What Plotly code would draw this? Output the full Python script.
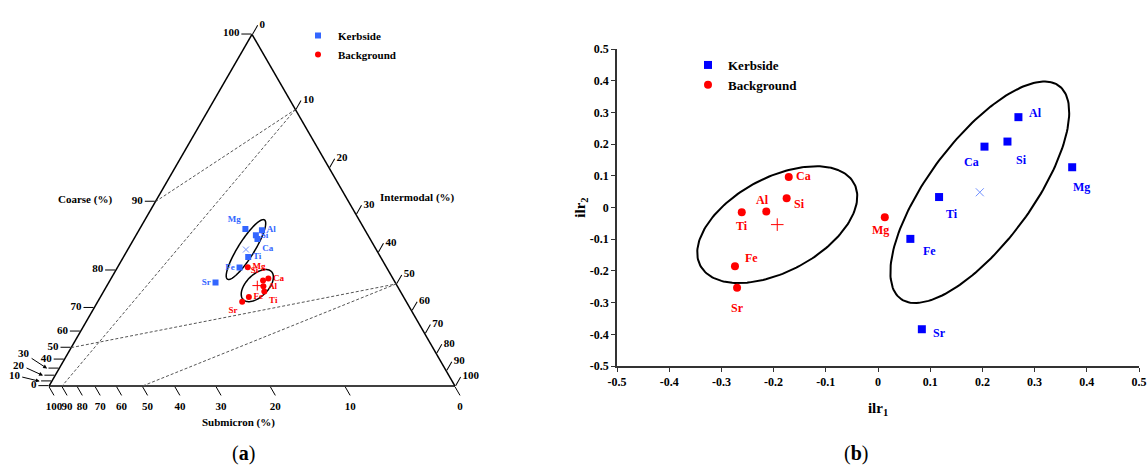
import numpy as np
import plotly.graph_objects as go

W, H = 1148, 466
SERIF = "Liberation Serif"
BLUE_A = "#3366FF"
BLUE_B = "#0000FF"
BLUE_X = "#7090FF"
RED = "#FF0000"

# ---------------- (a) ternary data, percent ----------------
k_elem = ["Mg", "Al", "Si", "Ca", "Ti", "Fe", "Sr"]
k_coarse = [75.8, 74.1, 73.5, 72.5, 68.9, 66.8, 64.5]
k_inter = [18.1, 20.7, 20.7, 21.6, 23.6, 24.4, 23.6]
k_submicron = [6.1, 5.2, 5.8, 5.9, 7.5, 8.8, 11.9]

b_elem = ["Mg", "Ca", "Si", "Al", "Ti", "Fe", "Sr"]
b_coarse = [66.2, 60.9, 60.8, 58.9, 57.0, 56.3, 55.1]
b_inter = [25.7, 31.6, 31.2, 32.8, 34.3, 33.3, 33.5]
b_submicron = [8.2, 7.5, 8.0, 8.4, 8.7, 10.4, 11.4]

k_centre = [71.1, 21.8, 7.2]   # coarse, intermodal, submicron
b_centre = [59.6, 31.6, 8.8]
plot_centre = [65.3, 26.7, 8.0]  # centring composition of the diagram

tern_ticks = [0, 10, 20, 30, 40, 50, 60, 70, 80, 90, 100]
crowded_coarse = [30, 20, 10]
crowded_offsets = [(-23, -15), (-24, -11), (-25, -6)]
grid_coarse = [50, 90]
grid_inter = [10, 50]

# ellipse (semi-major, semi-minor in triangle-side units, angle deg)
k_ell_a = [0.086, 0.020, 58.0]
b_ell_a = [0.049, 0.027, 45.0]

k_pos_a = ["top left", "middle right", "middle right", "bottom right",
           "middle right", "middle left", "middle left"]
b_pos_a = ["middle right", "middle right", "top left", "middle right",
           "bottom right", "middle right", "bottom left"]

# ---------------- (b) ilr data ----------------
k_ilr1 = [0.372, 0.269, 0.248, 0.204, 0.117, 0.062, 0.084]
k_ilr2 = [0.127, 0.285, 0.208, 0.192, 0.033, -0.099, -0.384]
b_ilr1 = [0.013, -0.171, -0.175, -0.214, -0.261, -0.274, -0.270]
b_ilr2 = [-0.031, 0.096, 0.029, -0.013, -0.015, -0.185, -0.253]
k_ilr_centre = [0.195, 0.048]
b_ilr_centre = [-0.193, -0.054]
# ellipse in data units: semi-major, semi-minor, angle deg
k_ell_b = [0.373, 0.111, 68.5]
b_ell_b = [0.208, 0.119, 55.5]
# label offsets in px (dx, dy up)
k_off_b = [(9, -20), (17, 4), (14, -18), (-13, -15), (13, -17), (19, -12), (18, -4)]
b_off_b = [(-4, -13), (15, 1), (13, -6), (-4, 12), (0, -14), (17, 8), (0, -20)]
ilr_ticks = [-0.5, -0.4, -0.3, -0.2, -0.1, 0, 0.1, 0.2, 0.3, 0.4, 0.5]
ilr_ticktext = ["-0.5", "-0.4", "-0.3", "-0.2", "-0.1", "0", "0.1", "0.2", "0.3", "0.4", "0.5"]


def centred(coarse, inter, sub):
    a = np.asarray(coarse, float) / plot_centre[0]
    c = np.asarray(inter, float) / plot_centre[1]
    b = np.asarray(sub, float) / plot_centre[2]
    s = a + b + c
    return a / s, b / s, c / s


def to_xy(a, b, c):
    return c + a / 2.0, a * np.sqrt(3) / 2.0


def from_xy(X, Y):
    a = 2.0 * Y / np.sqrt(3)
    c = X - a / 2.0
    return a, 1 - a - c, c


def ellipse_tern(centre, semi_a, semi_b, ang):
    a0, b0, c0 = centred(*centre)
    X0, Y0 = to_xy(a0, b0, c0)
    t = np.linspace(0, 2 * np.pi, 181)
    th = np.radians(ang)
    X = X0 + semi_a * np.cos(t) * np.cos(th) - semi_b * np.sin(t) * np.sin(th)
    Y = Y0 + semi_a * np.cos(t) * np.sin(th) + semi_b * np.sin(t) * np.cos(th)
    return from_xy(X, Y)


def ellipse_xy(centre, semi_a, semi_b, ang):
    t = np.linspace(0, 2 * np.pi, 181)
    th = np.radians(ang)
    x = centre[0] + semi_a * np.cos(t) * np.cos(th) - semi_b * np.sin(t) * np.sin(th)
    y = centre[1] + semi_a * np.cos(t) * np.sin(th) + semi_b * np.sin(t) * np.cos(th)
    return x, y


fig = go.Figure()

# dashed grid lines of the centred ternary
for v in grid_coarse:
    a, b, c = centred([v, v], [0, 100 - v], [100 - v, 0])
    fig.add_trace(go.Scatterternary(a=a, b=b, c=c, mode="lines", showlegend=False,
                                    line=dict(color="#555555", width=1, dash="3px,2px"),
                                    hoverinfo="skip"))
for v in grid_inter:
    a, b, c = centred([100 - v, 0], [v, v], [0, 100 - v])
    fig.add_trace(go.Scatterternary(a=a, b=b, c=c, mode="lines", showlegend=False,
                                    line=dict(color="#555555", width=1, dash="3px,2px"),
                                    hoverinfo="skip"))

# ellipses (a)
for cen, par in [(k_centre, k_ell_a), (b_centre, b_ell_a)]:
    a, b, c = ellipse_tern(cen, *par)
    fig.add_trace(go.Scatterternary(a=a, b=b, c=c, mode="lines", showlegend=False,
                                    line=dict(color="black", width=1.5), hoverinfo="skip"))

# centres (a)
a, b, c = centred([k_centre[0]], [k_centre[1]], [k_centre[2]])
fig.add_trace(go.Scatterternary(a=a, b=b, c=c, mode="markers", showlegend=False,
                                marker=dict(symbol="x-thin", size=6, line=dict(color=BLUE_X, width=1))))
a, b, c = centred([b_centre[0]], [b_centre[1]], [b_centre[2]])
fig.add_trace(go.Scatterternary(a=a, b=b, c=c, mode="markers", showlegend=False,
                                marker=dict(symbol="cross-thin", size=7, line=dict(color=RED, width=1))))

# points (a)
a, b, c = centred(k_coarse, k_inter, k_submicron)
fig.add_trace(go.Scatterternary(a=a, b=b, c=c, mode="markers+text", name="Kerbside",
                                text=k_elem, textposition=k_pos_a,
                                textfont=dict(family=SERIF, size=9, color=BLUE_A, weight="bold"),
                                marker=dict(symbol="square", size=6, color=BLUE_A), legend="legend"))
a, b, c = centred(b_coarse, b_inter, b_submicron)
fig.add_trace(go.Scatterternary(a=a, b=b, c=c, mode="markers+text", name="Background",
                                text=b_elem, textposition=b_pos_a,
                                textfont=dict(family=SERIF, size=9, color=RED, weight="bold"),
                                marker=dict(symbol="circle", size=6, color=RED), legend="legend"))

# ---------------- (b) ----------------
for cen, par in [(k_ilr_centre, k_ell_b), (b_ilr_centre, b_ell_b)]:
    x, y = ellipse_xy(cen, *par)
    fig.add_trace(go.Scatter(x=x, y=y, mode="lines", showlegend=False,
                             line=dict(color="black", width=2), hoverinfo="skip"))
fig.add_trace(go.Scatter(x=[k_ilr_centre[0]], y=[k_ilr_centre[1]], mode="markers", showlegend=False,
                         marker=dict(symbol="x-thin", size=8, line=dict(color=BLUE_X, width=1))))
fig.add_trace(go.Scatter(x=[b_ilr_centre[0]], y=[b_ilr_centre[1]], mode="markers", showlegend=False,
                         marker=dict(symbol="cross-thin", size=9, line=dict(color=RED, width=1))))
fig.add_trace(go.Scatter(x=k_ilr1, y=k_ilr2, mode="markers", name="Kerbside", legend="legend2",
                         marker=dict(symbol="square", size=8, color=BLUE_B)))
fig.add_trace(go.Scatter(x=b_ilr1, y=b_ilr2, mode="markers", name="Background", legend="legend2",
                         marker=dict(symbol="circle", size=8, color=RED)))

annotations = []
for el, x, y, (dx, dy) in zip(k_elem, k_ilr1, k_ilr2, k_off_b):
    annotations.append(dict(x=x, y=y, xref="x", yref="y", text=el, showarrow=False,
                            xshift=dx, yshift=dy, xanchor="center", yanchor="middle",
                            font=dict(family=SERIF, size=12, color=BLUE_B, weight="bold")))
for el, x, y, (dx, dy) in zip(b_elem, b_ilr1, b_ilr2, b_off_b):
    annotations.append(dict(x=x, y=y, xref="x", yref="y", text=el, showarrow=False,
                            xshift=dx, yshift=dy, xanchor="center", yanchor="middle",
                            font=dict(family=SERIF, size=12, color=RED, weight="bold")))

# ---------------- ternary layout ----------------
TRI_L, TRI_R, TRI_BASE = 49, 455, 386
side = TRI_R - TRI_L
tri_h = side * np.sqrt(3) / 2
dom_x = [TRI_L / W, TRI_R / W]
dom_y = [(H - TRI_BASE) / H, (H - TRI_BASE + tri_h) / H]

a_vals = [float(centred([v], [0], [100 - v])[0][0]) for v in tern_ticks]
b_vals = [float(centred([0], [100 - v], [v])[1][0]) for v in tern_ticks]
c_vals = [float(centred([100 - v], [v], [0])[2][0]) for v in tern_ticks]
a_text = ["" if v in crowded_coarse else str(v) for v in tern_ticks]
bc_text = [str(v) for v in tern_ticks]

tick_font = dict(family=SERIF, size=11, color="black", weight="bold")
axis_common = dict(showgrid=False, linecolor="black", linewidth=1.5, ticks="outside",
                   ticklen=10, tickwidth=1, tickcolor="black", tickfont=tick_font,
                   title=dict(text=""), min=0, tickmode="array", layer="below traces")

# arrows for crowded coarse labels
for v, (dx, dy) in zip(crowded_coarse, crowded_offsets):
    av = float(centred([v], [0], [100 - v])[0][0])
    px = TRI_L + av * side / 2 - 12
    py = TRI_BASE - av * tri_h
    annotations.append(dict(x=px / W, y=1 - py / H, xref="paper", yref="paper", text=str(v),
                            showarrow=True, arrowhead=2, arrowsize=0.8, arrowwidth=1,
                            arrowcolor="black", ax=dx, ay=dy, xanchor="center", yanchor="middle",
                            font=tick_font))

# ternary axis titles and captions
cap_font = dict(family=SERIF, size=20, color="black")
for txt, px, py, fnt in [("Coarse (%)", 85, 199, tick_font),
                         ("Intermodal (%)", 417, 198, tick_font),
                         ("Submicron (%)", 238, 422, tick_font),
                         ("(<b>a</b>)", 243, 453, cap_font),
                         ("(<b>b</b>)", 856, 453, cap_font)]:
    annotations.append(dict(x=px / W, y=1 - py / H, xref="paper", yref="paper", text=txt,
                            showarrow=False, xanchor="center", yanchor="middle", font=fnt))

ilr_font = dict(family=SERIF, size=12, color="black", weight="bold")
title_font = dict(family=SERIF, size=15, color="black", weight="bold")
fig.update_layout(
    width=W, height=H, margin=dict(l=0, r=0, t=0, b=0, autoexpand=False),
    paper_bgcolor="white", plot_bgcolor="white",
    ternary=dict(domain=dict(x=dom_x, y=dom_y), sum=1, bgcolor="white",
                 aaxis=dict(tickvals=a_vals, ticktext=a_text, **axis_common),
                 baxis=dict(tickvals=b_vals, ticktext=bc_text, **axis_common),
                 caxis=dict(tickvals=c_vals, ticktext=bc_text, **axis_common)),
    xaxis=dict(domain=[617 / W, 1139 / W], range=[-0.5, 0.5], tickmode="array",
               tickvals=ilr_ticks, ticktext=ilr_ticktext, showline=True, linecolor="#333333",
               linewidth=1.5, ticks="outside", ticklen=4, tickcolor="#333333", zeroline=False,
               showgrid=False, tickfont=ilr_font, anchor="y", automargin=False,
               title=dict(text="ilr<sub>1</sub>", font=title_font, standoff=14)),
    yaxis=dict(domain=[(H - 366) / H, (H - 49) / H], range=[-0.5, 0.5], tickmode="array",
               tickvals=ilr_ticks, ticktext=ilr_ticktext, showline=True, linecolor="#333333",
               linewidth=1.5, ticks="outside", ticklen=4, tickcolor="#333333", zeroline=False,
               showgrid=False, tickfont=ilr_font, anchor="x", automargin=False,
               title=dict(text="ilr<sub>2</sub>", font=title_font, standoff=1)),
    legend=dict(x=298 / W, y=1 - 21 / H, xanchor="left", yanchor="top",
                font=dict(family=SERIF, size=11, color="black", weight="bold"),
                bgcolor="rgba(0,0,0,0)", itemwidth=30, tracegroupgap=0),
    legend2=dict(x=688 / W, y=1 - 50 / H, xanchor="left", yanchor="top",
                 font=dict(family=SERIF, size=13, color="black", weight="bold"),
                 bgcolor="rgba(0,0,0,0)", itemwidth=30, tracegroupgap=0),
    annotations=annotations,
    showlegend=True,
)

fig.write_html("out.html", config={"displayModeBar": False},
               post_script="document.body.style.margin='0px';document.body.style.overflow='hidden';")
